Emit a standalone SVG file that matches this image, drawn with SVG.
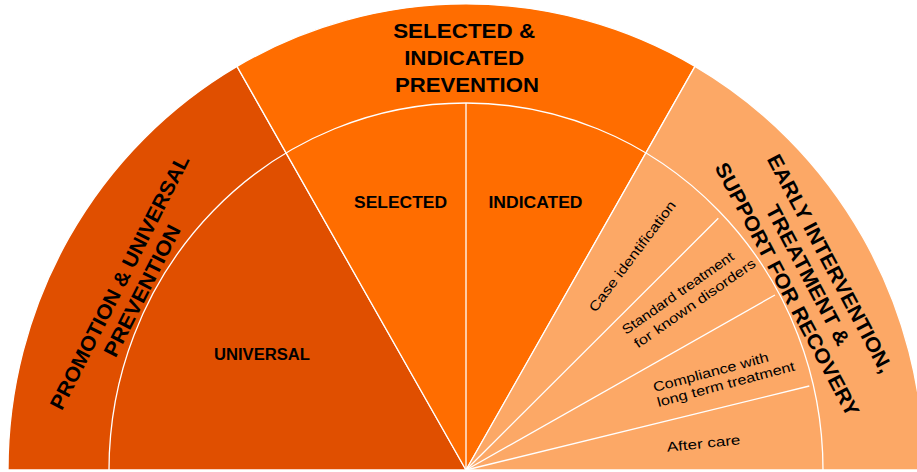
<svg xmlns="http://www.w3.org/2000/svg" width="917" height="472" viewBox="0 0 917 472">
  <style>
    .sector { stroke: #ffffff; stroke-width: 1.3; stroke-linejoin: round; }
    .rule { fill: none; stroke: #ffffff; stroke-width: 1.3; }
    .big { font-family: "Liberation Sans", Arial, sans-serif; font-weight: bold; font-size: 20.5px; fill: #000000; text-anchor: middle; }
    .mid { font-family: "Liberation Sans", Arial, sans-serif; font-weight: bold; font-size: 16px; fill: #000000; text-anchor: middle; }
    .small { font-family: "Liberation Sans", Arial, sans-serif; font-size: 13.5px; fill: #000000; }
  </style>
  <rect width="917" height="472" fill="#ffffff"/>

  <!-- Outer band sectors (centre 466,470) -->
  <g id="promotion-universal">
    <path class="sector" fill="#E04F00" d="M466,470 L8,470 A458,466 0 0,1 237,66.4 Z"/>
    <text class="big" transform="translate(127,283) rotate(-63)">
      <tspan x="0" y="0" textLength="282" lengthAdjust="spacingAndGlyphs">PROMOTION &amp; UNIVERSAL</tspan>
      <tspan x="0" y="24" textLength="145" lengthAdjust="spacingAndGlyphs">PREVENTION</tspan>
    </text>
  </g>

  <g id="selected-indicated">
    <path class="sector" fill="#FF6D00" d="M466,470 L237,66.4 A458,466 0 0,1 695,66.4 Z"/>
    <text class="big">
      <tspan x="467" y="37.5" textLength="142" lengthAdjust="spacingAndGlyphs">SELECTED &amp;</tspan>
      <tspan x="467" y="64.5" textLength="120" lengthAdjust="spacingAndGlyphs">INDICATED</tspan>
      <tspan x="467" y="91.5" textLength="144" lengthAdjust="spacingAndGlyphs">PREVENTION</tspan>
    </text>
  </g>

  <g id="early-intervention">
    <path class="sector" fill="#FCA866" d="M466,470 L695,66.4 A458,466 0 0,1 924,470 Z"/>
    <text class="big" transform="translate(803,281) rotate(62)">
      <tspan x="0" y="-25" textLength="244" lengthAdjust="spacingAndGlyphs">EARLY INTERVENTION,</tspan>
      <tspan x="0" y="0" textLength="156" lengthAdjust="spacingAndGlyphs">TREATMENT &amp;</tspan>
      <tspan x="0" y="25" textLength="284" lengthAdjust="spacingAndGlyphs">SUPPORT FOR RECOVERY</tspan>
    </text>
  </g>

  <!-- Inner band labels -->
  <g id="universal">
    <text class="mid" x="262" y="359.5" textLength="96" lengthAdjust="spacingAndGlyphs">UNIVERSAL</text>
  </g>
  <g id="selected">
    <text class="mid" x="400.5" y="208" textLength="93" lengthAdjust="spacingAndGlyphs">SELECTED</text>
  </g>
  <g id="indicated">
    <text class="mid" x="535.5" y="208" textLength="94" lengthAdjust="spacingAndGlyphs">INDICATED</text>
  </g>
  <g id="case-identification">
    <text class="small" text-anchor="middle" transform="translate(636,259) rotate(-53)" textLength="135" lengthAdjust="spacingAndGlyphs">Case identification</text>
  </g>
  <g id="standard-treatment">
    <text class="small" transform="translate(626,335) rotate(-35)">
      <tspan x="0" y="0" textLength="133" lengthAdjust="spacingAndGlyphs">Standard treatment</tspan>
      <tspan x="2" y="18" textLength="145" lengthAdjust="spacingAndGlyphs">for known disorders</tspan>
    </text>
  </g>
  <g id="compliance">
    <text class="small" transform="translate(654.5,392) rotate(-15)">
      <tspan x="0" y="0" textLength="119" lengthAdjust="spacingAndGlyphs">Compliance with</tspan>
      <tspan x="0" y="15.5" textLength="142" lengthAdjust="spacingAndGlyphs">long term treatment</tspan>
    </text>
  </g>
  <g id="after-care">
    <text class="small" text-anchor="middle" transform="translate(704,448) rotate(-6)" textLength="74" lengthAdjust="spacingAndGlyphs">After care</text>
  </g>

  <!-- Dividing rules -->
  <g id="connectors">
    <path class="rule" d="M109,470 A357,367 0 0,1 823,470"/>
    <path class="rule" d="M466,470 L466,103"/>
    <path class="rule" d="M466,470 L718.3,218.3"/>
    <path class="rule" d="M466,470 L775,295"/>
    <path class="rule" d="M466,470 L809.3,386"/>
  </g>
</svg>
